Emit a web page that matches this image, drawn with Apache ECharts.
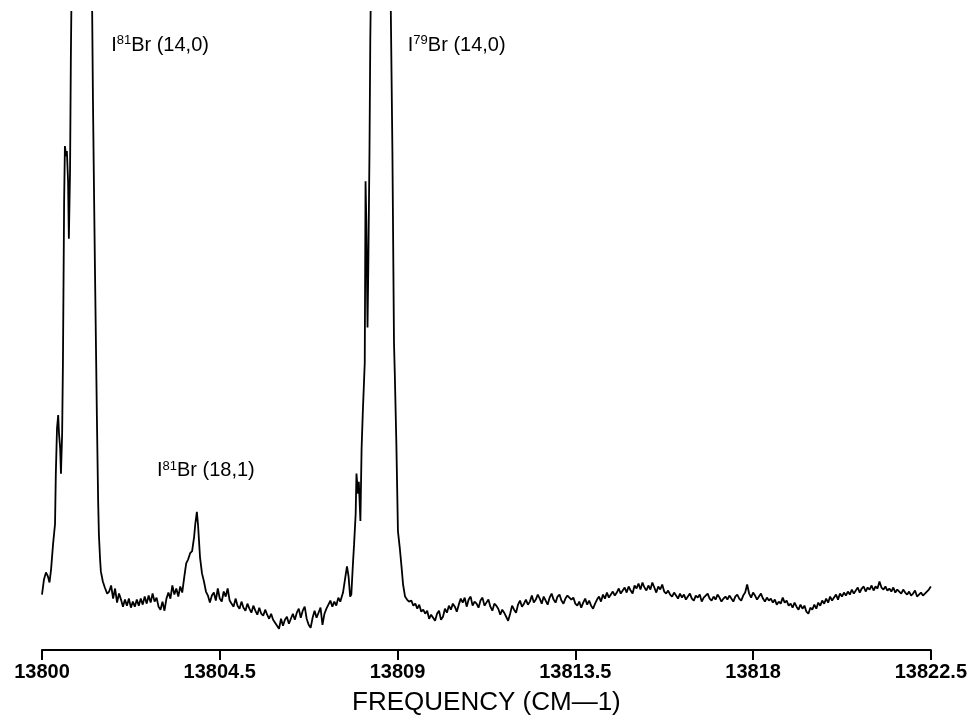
<!DOCTYPE html>
<html><head><meta charset="utf-8">
<script src="https://cdn.jsdelivr.net/npm/echarts@6/dist/echarts.min.js"></script>
<style>html,body{margin:0;padding:0;background:#fff}#c{width:970px;height:722px}</style>
</head><body><div id="c"></div>
<script>
// x-axis tick labels (cm-1)
const tickValues = [13800, 13804.5, 13809, 13813.5, 13818, 13822.5];

// spectrum: frequency (cm-1) and intensity (arb. units)
const freq = [
 13800.00,13800.05,13800.10,13800.15,13800.19,13800.23,13800.28,13800.33,13800.35,13800.38,
 13800.41,13800.43,13800.46,13800.48,13800.51,13800.53,13800.56,13800.58,13800.61,13800.63,
 13800.66,13800.68,13800.71,13800.73,13800.76,13800.86,13800.99,13801.11,13801.22,13801.27,
 13801.29,13801.32,13801.34,13801.37,13801.39,13801.42,13801.44,13801.47,13801.49,13801.54,
 13801.59,13801.65,
 13801.70,13801.75,13801.80,13801.85,13801.90,13801.95,13802.00,13802.05,13802.10,13802.15,
 13802.20,13802.25,13802.30,13802.35,13802.40,13802.45,13802.50,13802.55,13802.60,13802.65,
 13802.70,13802.75,13802.80,13802.85,13802.90,13802.95,13803.00,13803.05,13803.10,13803.15,
 13803.20,13803.25,13803.30,13803.35,13803.40,13803.45,13803.50,13803.55,
 13803.60,13803.65,13803.70,13803.75,13803.80,13803.85,13803.88,13803.92,13803.95,13804.00,
 13804.05,13804.10,13804.15,13804.20,
 13804.25,13804.30,13804.35,13804.40,13804.45,13804.50,13804.55,13804.60,13804.65,13804.70,
 13804.75,13804.80,13804.85,13804.90,13804.95,13805.00,13805.05,13805.10,13805.15,13805.20,
 13805.25,13805.30,13805.35,13805.40,13805.45,13805.50,13805.55,13805.60,13805.65,13805.70,
 13805.75,13805.80,13805.85,13805.90,13805.95,13806.00,13806.05,13806.10,13806.15,13806.20,
 13806.25,13806.30,13806.35,13806.40,13806.45,13806.50,13806.55,13806.60,13806.65,13806.70,
 13806.75,13806.80,13806.85,13806.90,13806.95,13807.00,13807.05,13807.10,13807.15,13807.20,
 13807.25,13807.30,13807.35,13807.40,13807.45,13807.50,13807.55,
 13807.62,13807.67,13807.72,13807.76,13807.80,13807.83,13807.87,13807.90,13807.94,13807.96,
 13808.00,13808.02,13808.06,13808.09,13808.12,13808.15,13808.17,13808.19,13808.21,13808.24,
 13808.26,13808.29,13808.31,13808.34,13808.43,13808.58,13808.71,13808.80,13808.83,13808.87,
 13808.91,13808.93,13808.97,13809.01,13809.06,13809.10,13809.14,13809.19,13809.24,13809.29,
 13809.35,13809.40,13809.45,13809.50,13809.55,13809.60,13809.65,13809.70,13809.75,13809.80,
 13809.85,13809.90,13809.95,13810.00,13810.05,13810.10,13810.15,13810.20,13810.25,13810.30,
 13810.35,13810.40,13810.45,13810.50,13810.55,13810.60,13810.65,13810.70,13810.75,13810.80,
 13810.85,13810.90,13810.95,13811.00,13811.05,13811.10,13811.15,13811.20,13811.25,13811.30,
 13811.35,13811.40,13811.45,13811.50,13811.55,13811.60,13811.65,13811.70,13811.75,13811.80,
 13811.85,13811.90,13811.95,13812.00,13812.05,13812.10,13812.15,13812.20,13812.25,13812.30,
 13812.35,13812.40,13812.45,13812.50,13812.55,13812.60,13812.65,13812.70,13812.75,13812.80,
 13812.85,13812.90,13812.95,13813.00,13813.05,13813.10,13813.15,13813.20,13813.25,13813.30,
 13813.35,13813.40,13813.45,13813.50,13813.55,13813.60,13813.65,13813.70,13813.75,13813.80,
 13813.85,13813.90,13813.95,13814.00,13814.05,13814.10,13814.15,13814.20,13814.25,13814.30,
 13814.35,13814.40,13814.45,13814.50,13814.55,13814.60,13814.65,13814.70,13814.75,13814.80,
 13814.85,13814.90,13814.95,13815.00,13815.05,13815.10,13815.15,13815.20,13815.25,13815.30,
 13815.35,13815.40,13815.45,13815.50,13815.55,13815.60,13815.65,13815.70,13815.75,13815.80,
 13815.85,13815.90,13815.95,13816.00,13816.05,13816.10,13816.15,13816.20,13816.25,13816.30,
 13816.35,13816.40,13816.45,13816.50,13816.55,13816.60,13816.65,13816.70,13816.75,13816.80,
 13816.85,13816.90,13816.95,13817.00,13817.05,13817.10,13817.15,13817.20,13817.25,13817.30,
 13817.35,13817.40,13817.45,13817.50,13817.55,13817.60,13817.65,13817.70,13817.75,13817.80,
 13817.85,13817.90,13817.95,13818.00,13818.05,13818.10,13818.15,13818.20,13818.25,13818.30,
 13818.35,13818.40,13818.45,13818.50,13818.55,13818.60,13818.65,13818.70,13818.75,13818.80,
 13818.85,13818.90,13818.95,13819.00,13819.05,13819.10,13819.15,13819.20,13819.25,13819.30,
 13819.35,13819.40,13819.45,13819.50,13819.55,13819.60,13819.65,13819.70,13819.75,13819.80,
 13819.85,13819.90,13819.95,13820.00,13820.05,13820.10,13820.15,13820.20,13820.25,13820.30,
 13820.35,13820.40,13820.45,13820.50,13820.55,13820.60,13820.65,13820.70,13820.75,13820.80,
 13820.85,13820.90,13820.95,13821.00,13821.05,13821.10,13821.15,13821.20,13821.25,13821.30,
 13821.35,13821.40,13821.45,13821.50,13821.55,13821.60,13821.65,13821.70,13821.75,13821.80,
 13821.85,13821.90,13821.95,13822.00,13822.05,13822.10,13822.15,13822.20,13822.25,13822.30,
 13822.35,13822.40,13822.45,13822.50
];
const intensity = [
 55,70,77,73,67,80,105,125,175,220,
 233,215,200,175,215,285,445,500,490,495,
 465,408,475,585,700,1100,1400,1100,700,633,
 545,445,380,290,230,150,115,90,78,68,
 62,56,
 58,64,51,61,47,56,50,43,50,44,
 51,42,48,43,50,44,51,45,53,46,
 54,47,56,48,52,43,40,48,39,51,
 57,51,64,55,61,53,63,57,
 72,86,90,96,98,112,125,137,124,92,
 76,68,58,54,
 47,54,57,49,61,51,48,58,53,61,
 49,46,43,51,44,41,48,42,39,46,
 41,37,44,39,35,42,36,34,40,35,
 31,36,30,27,24,21,31,24,30,33,
 26,31,36,30,37,41,32,39,43,31,
 25,22,32,39,32,37,42,25,36,41,
 45,49,43,48,44,52,48,
 57,70,83,73,53,55,85,105,135,175,
 155,167,128,200,235,265,285,465,425,320,
 380,495,605,700,1050,1400,1050,700,633,495,
 305,275,205,118,100,83,65,53,50,48,
 49,44,46,41,45,38,40,36,39,31,
 35,32,29,36,39,30,33,41,37,44,
 40,46,43,38,45,51,47,52,43,50,
 53,44,48,46,42,49,52,44,47,50,
 43,39,46,44,41,35,40,37,33,29,
 36,44,40,37,45,49,43,46,50,45,
 48,54,47,50,55,51,46,53,49,45,
 52,56,50,47,53,55,49,46,51,54,
 55,50,52,46,44,48,42,47,51,45,
 49,44,41,46,50,53,48,55,51,57,
 52,55,58,54,57,61,56,59,62,57,
 63,59,56,64,61,66,60,67,62,59,
 64,60,67,62,57,63,60,65,58,56,
 59,55,53,57,54,51,56,52,55,50,
 53,56,51,49,54,52,55,48,52,54,
 56,51,49,53,50,55,52,48,51,53,
 50,54,51,48,53,55,51,49,54,57,
 65,56,52,57,54,50,53,56,51,48,
 52,49,51,47,50,45,48,46,52,47,
 49,44,46,42,47,43,40,45,41,44,
 38,36,42,40,45,41,47,44,49,46,
 51,47,53,49,52,55,50,56,53,57,
 54,58,55,60,56,59,62,57,61,63,
 58,62,60,64,59,63,61,68,62,60,
 63,59,61,58,62,57,60,59,56,60,
 57,55,58,54,56,59,53,55,57,54,
 56,58,60,63
];

// peak annotations
const annIsotope = ['81', '79', '81'];
const annBand = ['Br (14,0)', 'Br (14,0)', 'Br (18,1)'];
const annFreq = [13801.75, 13809.26, 13802.91];
const annLevel = [600, 600, 178];

const FONT = '"Liberation Sans", Arial, sans-serif';
const chart = echarts.init(document.getElementById('c'), null, {renderer: 'canvas'});
const data = freq.map((f, i) => [f, intensity[i]]);
const marks = annFreq.map((f, i) => ({
  coord: [f, annLevel[i]],
  label: { formatter: '{a|I}{s|' + annIsotope[i] + '}{a|' + annBand[i] + '}' }
}));

chart.setOption({
  animation: false,
  backgroundColor: '#fff',
  grid: { left: 42, right: 39, top: 12, bottom: 72 },
  xAxis: {
    type: 'value', min: 13800, max: 13822.5,
    name: 'FREQUENCY (CM\u20141)', nameLocation: 'middle', nameGap: 40,
    nameTextStyle: { fontFamily: FONT, fontSize: 26, color: '#000' },
    axisLine: { lineStyle: { color: '#000', width: 2 } },
    axisTick: { show: true, length: 10, lineStyle: { color: '#000', width: 2 }, customValues: tickValues },
    axisLabel: { customValues: tickValues, formatter: v => String(v), margin: 12,
      fontFamily: FONT, fontSize: 20, fontWeight: 'bold', color: '#000' },
    splitLine: { show: false }
  },
  yAxis: { type: 'value', min: 0, max: 633, show: false },
  series: [{
    type: 'line', data: data, showSymbol: false, clip: true,
    lineStyle: { color: '#000', width: 1.8 },
    markPoint: {
      symbol: 'circle', symbolSize: 0, silent: true,
      label: {
        show: true, position: 'right', distance: 0, color: '#000',
        rich: {
          a: { fontFamily: FONT, fontSize: 20, lineHeight: 22, color: '#000' },
          s: { fontFamily: FONT, fontSize: 13, lineHeight: 14, verticalAlign: 'top', color: '#000' }
        }
      },
      data: marks
    }
  }]
});
</script></body></html>
